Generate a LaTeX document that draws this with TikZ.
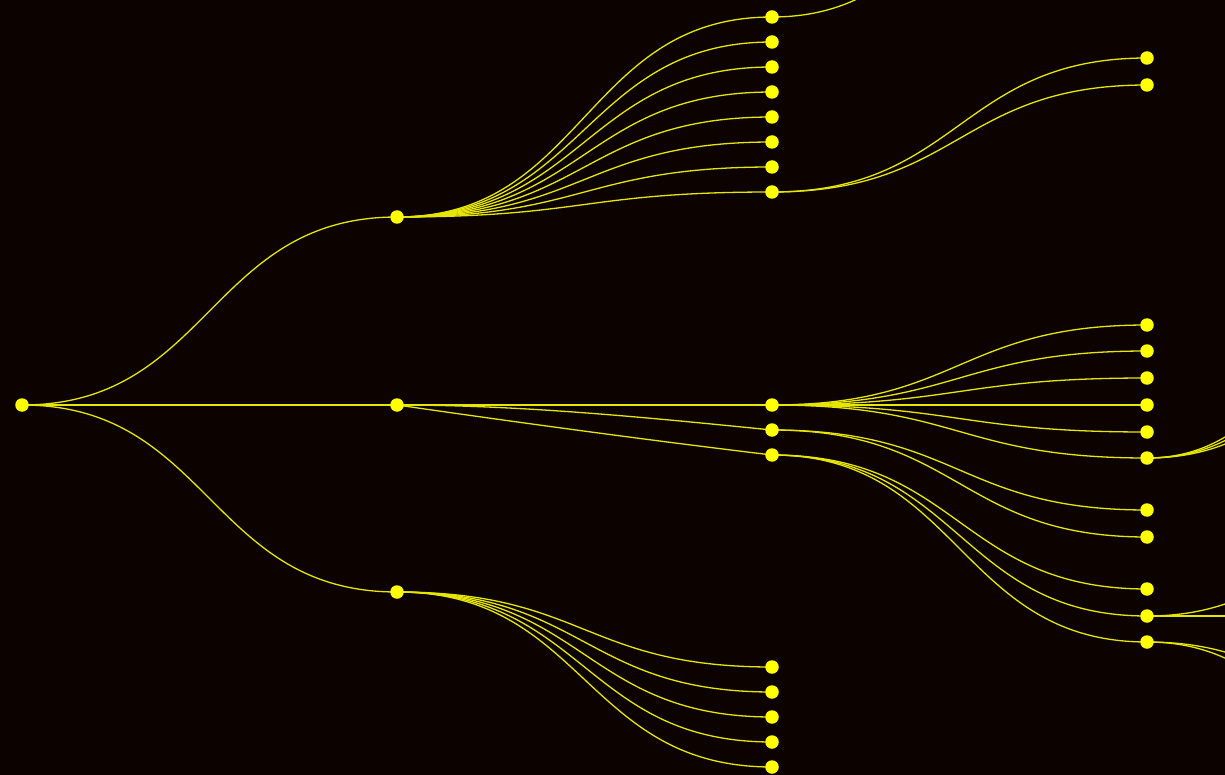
\documentclass[tikz,border=0pt]{standalone}
\usetikzlibrary{calc}
\pgfdeclarelayer{bg}
\pgfsetlayers{bg,main}
\definecolor{bgc}{RGB}{12,3,1}
\definecolor{nodec}{RGB}{255,255,0}
\definecolor{edgec}{RGB}{230,230,0}
\tikzset{
  dot/.style={circle,fill=nodec,inner sep=0pt,minimum size=13.5pt,draw=none},
  edge/.style={draw=edgec,line width=1.3pt}
}
\newcommand\lnk[2]{\draw[edge] let \p1=(#1.center), \p2=(#2.center) in (\p1) .. controls ({0.5*\x1+0.5*\x2},\y1) and ({0.5*\x1+0.5*\x2},\y2) .. (\p2);}
\begin{document}
\begin{tikzpicture}[x=1pt,y=-1pt]
\useasboundingbox (0,0) rectangle (1225,775);
% level 0,1
\node[dot] (r) at (22,405) {};
\node[dot] (a) at (397,217) {};
\node[dot] (b) at (397,405) {};
\node[dot] (c) at (397,592) {};
% level 2
\foreach \i/\y in {1/17,2/42,3/67,4/92,5/117,6/142,7/167,8/192}
  \node[dot] (a\i) at (772,\y) {};
\node[dot] (b1) at (772,405) {};
\node[dot] (b2) at (772,430) {};
\node[dot] (b3) at (772,455) {};
\foreach \i/\y in {1/667,2/692,3/717,4/742,5/767}
  \node[dot] (c\i) at (772,\y) {};
% level 3
\node[dot] (a8a) at (1147,58) {};
\node[dot] (a8b) at (1147,85) {};
\coordinate (a1a) at (1147,-194);
\foreach \i/\y in {1/325,2/351,3/378,4/405,5/432,6/458}
  \node[dot] (b1\i) at (1147,\y) {};
\node[dot] (b21) at (1147,510) {};
\node[dot] (b22) at (1147,537) {};
\node[dot] (b31) at (1147,589) {};
\node[dot] (b32) at (1147,616) {};
\node[dot] (b33) at (1147,642) {};
% level 4 (off the picture)
\coordinate (b16a) at (1522,160);
\coordinate (b16b) at (1522,210);
\coordinate (b16c) at (1522,260);
\coordinate (b32a) at (1522,445);
\coordinate (b32b) at (1522,616);
\coordinate (b33a) at (1522,785);
\coordinate (b33b) at (1522,871);
\begin{pgfonlayer}{bg}
\fill[bgc] (0,0) rectangle (1225,775);
\begin{scope}
\clip (0,0) rectangle (1225,775);
\lnk{r}{a}\lnk{r}{b}\lnk{r}{c}
\foreach \i in {1,...,8} {\lnk{a}{a\i}}
\lnk{b}{b1}
\draw[edge] (b.center) .. controls ($(b.center)+(125,0)$) and ($(b2.center)+(-125,-12.5)$) .. (b2.center);
\draw[edge] (b.center) .. controls ($(b.center)+(125,18)$) and ($(b3.center)+(-125,-15)$) .. (b3.center);
\foreach \i in {1,...,5} {\lnk{c}{c\i}}
\lnk{a8}{a8a}\lnk{a8}{a8b}\lnk{a1}{a1a}
\foreach \i in {1,...,6} {\lnk{b1}{b1\i}}
\lnk{b2}{b21}\lnk{b2}{b22}
\lnk{b3}{b31}\lnk{b3}{b32}\lnk{b3}{b33}
\lnk{b16}{b16a}\lnk{b16}{b16b}\lnk{b16}{b16c}
\lnk{b32}{b32a}\lnk{b32}{b32b}
\lnk{b33}{b33a}\lnk{b33}{b33b}
\end{scope}
\end{pgfonlayer}
\end{tikzpicture}
\end{document}
